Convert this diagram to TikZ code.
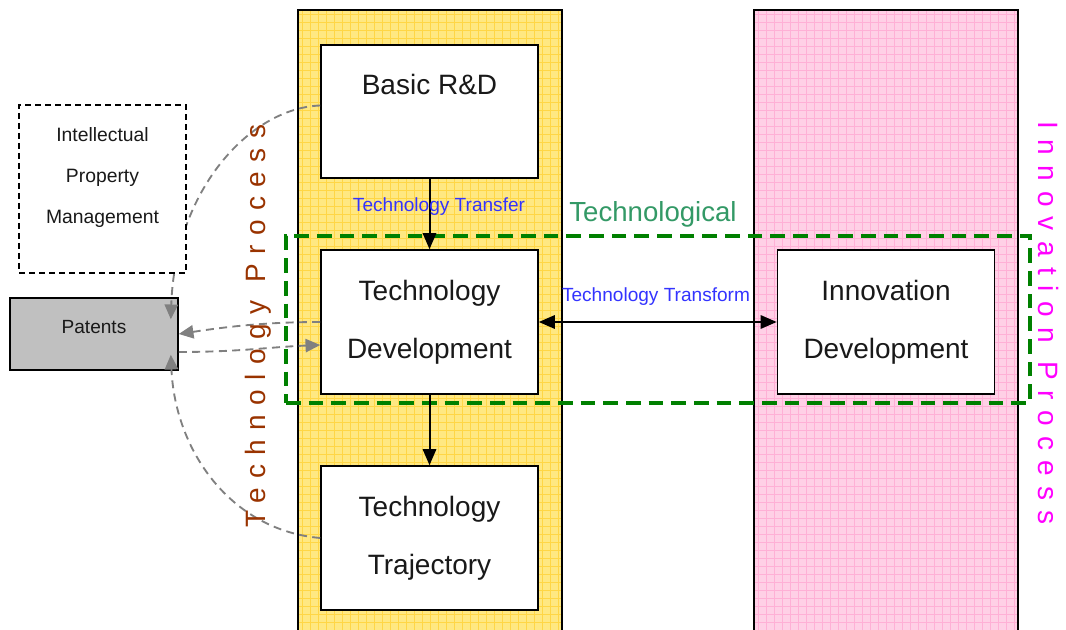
\documentclass[tikz,border=0pt]{standalone}
\usepackage{fontspec}
\setmainfont{Liberation Sans}
\usetikzlibrary{arrows.meta}

\definecolor{techfill}{RGB}{255,232,130}
\definecolor{techgrid}{RGB}{255,214,70}
\definecolor{innofill}{RGB}{255,208,230}
\definecolor{innogrid}{RGB}{255,176,214}
\definecolor{patgray}{RGB}{192,192,192}
\definecolor{flowgray}{RGB}{128,128,128}
\definecolor{zonegreen}{RGB}{0,128,0}
\definecolor{zonetext}{RGB}{51,153,102}
\definecolor{linkblue}{RGB}{51,51,255}
\definecolor{procbrown}{RGB}{153,51,0}
\definecolor{procmagenta}{RGB}{255,0,255}

\begin{document}
\begin{tikzpicture}[x=0.75pt,y=-0.75pt,
  every node/.style={font=\fontsize{21}{43.5}\selectfont, text=black!90},
  boxbase/.style={draw,line width=1.2pt,fill=white,inner sep=0pt,minimum width=162.75pt},
  stagebox/.style={boxbase,align=center,minimum height=108pt},
  ipbox/.style={draw,line width=1.1pt,dash pattern=on 4.5pt off 3pt,fill=white,minimum width=125.25pt,minimum height=126pt},
  zonebox/.style={draw=zonegreen,line width=3pt,dash pattern=on 11pt off 6pt,inner sep=0pt},
  smalltext/.style={font=\fontsize{14.3}{17}\selectfont},
  linklabel/.style={smalltext,text=linkblue},
  flow/.style={line width=1.5pt,-{Triangle[length=12pt,width=10pt]}},
  patflow/.style={draw=flowgray,line width=1.4pt,dash pattern=on 6pt off 4pt,-{Triangle[length=11pt,width=10pt,fill=flowgray]}}]

\useasboundingbox (0,0) rectangle (1066,630);
\clip (0,0) rectangle (1066,630);

% technology column
\fill[techfill] (298,10) rectangle (562,640);
\foreach \gx in {302,310,...,562} \draw[techgrid,line width=0.6pt] (\gx,10) -- (\gx,640);
\foreach \gy in {14,22,...,634} \draw[techgrid,line width=0.6pt] (298,\gy) -- (562,\gy);
\draw[line width=1.2pt] (298,640) -- (298,10) -- (562,10) -- (562,640);

% innovation column
\fill[innofill] (754,10) rectangle (1018,640);
\foreach \gx in {758,766,...,1018} \draw[innogrid,line width=0.6pt] (\gx,10) -- (\gx,640);
\foreach \gy in {14,22,...,634} \draw[innogrid,line width=0.6pt] (754,\gy) -- (1018,\gy);
\draw[line width=1.2pt] (754,640) -- (754,10) -- (1018,10) -- (1018,640);

% technological zone
\node[zonebox,minimum width=558pt,minimum height=125.25pt] (zone) at (658,319.5) {};

% stages
\node[boxbase,minimum height=99.75pt,text height=37.5pt,text depth=62.25pt] (basic) at (429.5,111.5) {Basic R\&D};
\node[stagebox] (techdev) at (429.5,322) {Technology\\Development};
\node[stagebox] (traj) at (429.5,538) {Technology\\Trajectory};
\node[stagebox] (innodev) at (886,322) {Innovation\\Development};

\draw[flow] (basic) -- (techdev);
\draw[flow] (techdev) -- (traj);
\draw[flow,{Triangle[length=12pt,width=10pt]}-{Triangle[length=12pt,width=10pt]}] (techdev) -- (innodev);

% patents and IP
\node[boxbase,fill=patgray,minimum width=126pt,minimum height=54pt,text height=27pt,text depth=27pt,smalltext] (patents) at (94,334) {Patents};

\draw[patflow] ([shift={(0,-6)}]basic.west) .. controls (250,108) and (175,190) .. ([shift={(-8,22)}]patents.north east);
\draw[patflow] (techdev.west) .. controls +(-60,0) and +(40,-6) .. (patents.east);
\draw[patflow] ([shift={(0,18)}]patents.east) .. controls +(60,0) and +(-50,2) .. ([shift={(0,23)}]techdev.west);
\draw[patflow] (traj.west) .. controls (230,530) and (175,450) .. ([shift={(-8,-16)}]patents.south east);

\node[ipbox] (ipm) at (102.5,189) {};
\node[align=center,font=\fontsize{14.5}{30.75}\selectfont] (ipmtext) at ([shift={(0,-11)}]ipm.center) {Intellectual\\Property\\Management};

% labels
\node[linklabel] (transfer) at (439,207) {Technology Transfer};
\node[linklabel] (transform) at (656,297) {Technology Transform};
\node[text=zonetext,font=\fontsize{20.7}{24}\selectfont] (zonename) at (653,214) {Technological};
\node[rotate=90,text=procbrown,font=\fontsize{21}{25}\selectfont\addfontfeature{LetterSpace=34}] (techproc) at (258,326) {Technology Process};
\node[rotate=-90,text=procmagenta,font=\fontsize{21}{25}\selectfont\addfontfeature{LetterSpace=37}] (innoproc) at (1048,323) {Innovation Process};
\end{tikzpicture}
\end{document}
